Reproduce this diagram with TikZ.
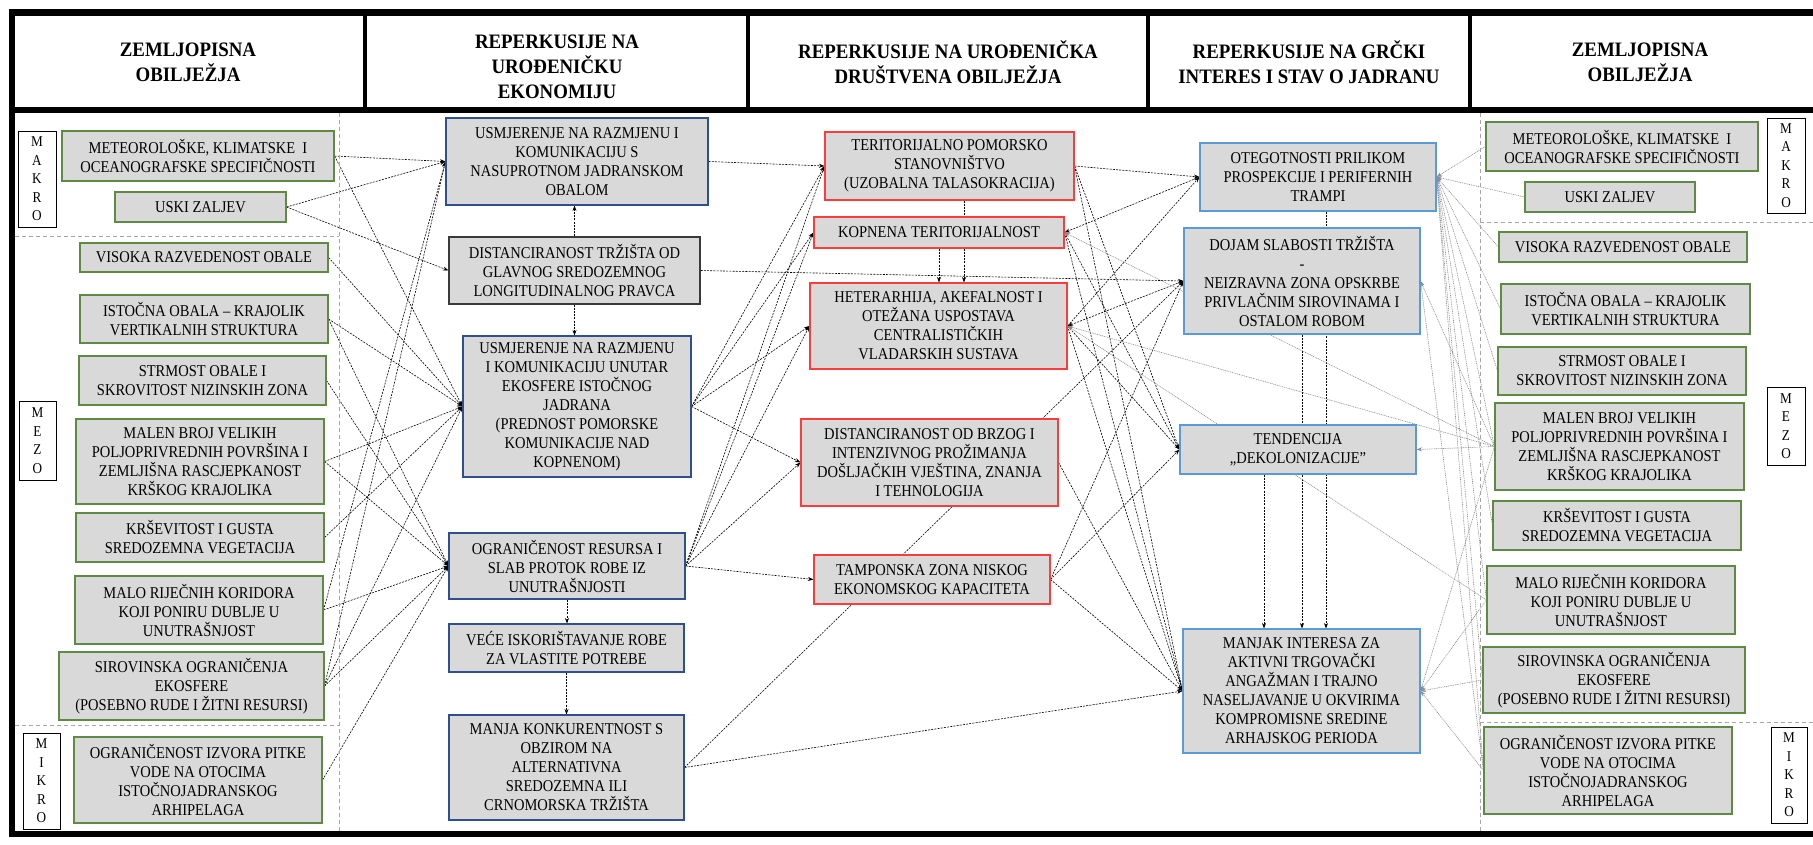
\documentclass[tikz,border=0pt]{standalone}
\usepackage{fontspec}
\setmainfont{Liberation Serif}
\newfontfamily\bodyfont{Liberation Serif}[FakeStretch=0.88]
\newfontfamily\hdrfont{Liberation Serif}[FakeStretch=0.92]
\usetikzlibrary{arrows.meta,calc,backgrounds}
\definecolor{boxgray}{HTML}{D9D9D9}
\definecolor{bgreen}{HTML}{5F8A45}
\definecolor{bnavy}{HTML}{2F4F8F}
\definecolor{bred}{HTML}{FF3B3B}
\definecolor{blblue}{HTML}{5B9BD5}
\definecolor{bdark}{HTML}{3A3A3A}
\begin{document}
\begin{tikzpicture}[x=1pt,y=-1pt,
  box/.style={draw, fill=boxgray, line width=1.1pt, align=center, inner sep=0pt,
    font=\bodyfont\fontsize{16.5}{19}\selectfont},
  gbox/.style={box, draw=bgreen},
  nbox/.style={box, draw=bnavy},
  dbox/.style={box, draw=bdark},
  rbox/.style={box, draw=bred},
  lbox/.style={box, draw=blblue},
  lvl/.style={draw=black, fill=white, line width=1pt, align=center, inner sep=0pt,
    font=\bodyfont\fontsize{15}{18.5}\selectfont},
  hdr/.style={align=center, font=\hdrfont\bfseries\fontsize{20.5}{25}\selectfont},
  conn/.style={line width=0.6pt, dash pattern=on 2pt off 1.2pt, -{Stealth[length=5.5pt,width=4pt]}},
  gconn/.style={black!45, line width=0.6pt, dash pattern=on 1pt off 0.8pt, -{Stealth[length=5.5pt,width=4pt]}},
  sep/.style={black!35, line width=0.8pt, dash pattern=on 4pt off 3pt},
]
\useasboundingbox (0,0) rectangle (1813,844);

% frame
\draw[line width=7pt] (9,12) -- (1813,12);
\draw[line width=6pt] (9,110) -- (1813,110);
\draw[line width=6pt] (9,834) -- (1813,834);
\draw[line width=6pt] (12,9) -- (12,837);
\foreach \x in {365,748,1148,1470} \draw[line width=4pt] (\x,12) -- (\x,110);

% headers
\node[hdr] (h1) at (188,62) {ZEMLJOPISNA\\OBILJEŽJA};
\node[hdr] (h2) at (557,67) {REPERKUSIJE NA\\UROĐENIČKU\\EKONOMIJU};
\node[hdr] (h3) at (948,62) {REPERKUSIJE NA UROĐENIČKA\\DRUŠTVENA OBILJEŽJA};
\node[hdr] (h4) at (1309,62) {REPERKUSIJE NA GRČKI\\INTERES I STAV O JADRANU};
\node[hdr] (h5) at (1640,62) {ZEMLJOPISNA\\OBILJEŽJA};

% separators
\draw[sep] (339,113) -- (339,831);
\draw[sep] (15,236) -- (339,236);
\draw[sep] (15,725) -- (339,725);
\draw[sep] (1480,113) -- (1480,831);
\draw[sep] (1480,222) -- (1813,222);
\draw[sep] (1480,722) -- (1813,722);

% left column
\node[lvl, minimum width=38pt, minimum height=96pt] (mkL) at (37,179) {M\\A\\K\\R\\O};
\node[lvl, minimum width=37pt, minimum height=79pt] (mzL) at (37.5,440.5) {M\\E\\Z\\O};
\node[lvl, minimum width=37pt, minimum height=96pt] (miL) at (41.5,781) {M\\I\\K\\R\\O};
\node[gbox, minimum width=272pt, minimum height=50pt] (l1) at (198,156) {METEOROLOŠKE, KLIMATSKE \ I\\OCEANOGRAFSKE SPECIFIČNOSTI};
\node[gbox, minimum width=171pt, minimum height=30pt] (l2) at (200.5,207) {USKI ZALJEV};
\node[gbox, minimum width=248pt, minimum height=29pt] (l3) at (204,257.5) {VISOKA RAZVEDENOST OBALE};
\node[gbox, minimum width=248pt, minimum height=48pt] (l4) at (204,319) {ISTOČNA OBALA – KRAJOLIK\\VERTIKALNIH STRUKTURA};
\node[gbox, minimum width=247pt, minimum height=49pt] (l5) at (202.5,380.5) {STRMOST OBALE I\\SKROVITOST NIZINSKIH ZONA};
\node[gbox, minimum width=248pt, minimum height=85pt] (l6) at (200,461.5) {MALEN BROJ VELIKIH\\POLJOPRIVREDNIH POVRŠINA I\\ZEMLJIŠNA RASCJEPKANOST\\KRŠKOG KRAJOLIKA};
\node[gbox, minimum width=248pt, minimum height=49pt] (l7) at (200,537.5) {KRŠEVITOST I GUSTA\\SREDOZEMNA VEGETACIJA};
\node[gbox, minimum width=248pt, minimum height=68pt] (l8) at (199,610) {MALO RIJEČNIH KORIDORA\\KOJI PONIRU DUBLJE U\\UNUTRAŠNJOST};
\node[gbox, minimum width=265pt, minimum height=68pt] (l9) at (191.5,686) {SIROVINSKA OGRANIČENJA\\EKOSFERE\\(POSEBNO RUDE I ŽITNI RESURSI)};
\node[gbox, minimum width=248pt, minimum height=86pt] (l10) at (198,780) {OGRANIČENOST IZVORA PITKE\\VODE NA OTOCIMA\\ISTOČNOJADRANSKOG\\ARHIPELAGA};

% column 2
\node[nbox, minimum width=262pt, minimum height=87pt] (b1) at (577,161.5) {USMJERENJE NA RAZMJENU I\\KOMUNIKACIJU S\\NASUPROTNOM JADRANSKOM\\OBALOM};
\node[dbox, minimum width=251pt, minimum height=67pt] (b2) at (574.5,270.5) {DISTANCIRANOST TRŽIŠTA OD\\GLAVNOG SREDOZEMNOG\\LONGITUDINALNOG PRAVCA};
\node[nbox, minimum width=228pt, minimum height=141pt] (b3) at (577,406.5) {USMJERENJE NA RAZMJENU\\I KOMUNIKACIJU UNUTAR\\EKOSFERE ISTOČNOG\\JADRANA\\(PREDNOST POMORSKE\\KOMUNIKACIJE NAD\\KOPNENOM)};
\node[nbox, minimum width=236pt, minimum height=66pt] (b4) at (567,566) {OGRANIČENOST RESURSA I\\SLAB PROTOK ROBE IZ\\UNUTRAŠNJOSTI};
\node[nbox, minimum width=235pt, minimum height=48pt] (b5) at (566.5,648) {VEĆE ISKORIŠTAVANJE ROBE\\ZA VLASTITE POTREBE};
\node[nbox, minimum width=235pt, minimum height=105pt] (b6) at (566.5,767.5) {MANJA KONKURENTNOST S\\OBZIROM NA\\ALTERNATIVNA\\SREDOZEMNA ILI\\CRNOMORSKA TRŽIŠTA};

% column 3
\node[rbox, minimum width=249pt, minimum height=68pt] (ter) at (949.5,166) {TERITORIJALNO POMORSKO\\STANOVNIŠTVO\\(UZOBALNA TALASOKRACIJA)};
\node[rbox, minimum width=250pt, minimum height=31pt] (kop) at (939,232.5) {KOPNENA TERITORIJALNOST};
\node[rbox, minimum width=257pt, minimum height=86pt] (het) at (938.5,326) {HETERARHIJA, AKEFALNOST I\\OTEŽANA USPOSTAVA\\CENTRALISTIČKIH\\VLADARSKIH SUSTAVA};
\node[rbox, minimum width=257pt, minimum height=87pt] (dob) at (929.5,462.5) {DISTANCIRANOST OD BRZOG I\\INTENZIVNOG PROŽIMANJA\\DOŠLJAČKIH VJEŠTINA, ZNANJA\\I TEHNOLOGIJA};
\node[rbox, minimum width=236pt, minimum height=49pt] (tamp) at (932,579.5) {TAMPONSKA ZONA NISKOG\\EKONOMSKOG KAPACITETA};

% column 4
\node[lbox, minimum width=236pt, minimum height=68pt] (oteg) at (1318,177) {OTEGOTNOSTI PRILIKOM\\PROSPEKCIJE I PERIFERNIH\\TRAMPI};
\node[lbox, minimum width=236pt, minimum height=106pt] (dojam) at (1302,281) {DOJAM SLABOSTI TRŽIŠTA\\-\\NEIZRAVNA ZONA OPSKRBE\\PRIVLAČNIM SIROVINAMA I\\OSTALOM ROBOM};
\node[lbox, minimum width=236pt, minimum height=49pt] (tend) at (1298,449.5) {TENDENCIJA\\„DEKOLONIZACIJE”};
\node[lbox, minimum width=237pt, minimum height=124pt] (manjak) at (1301.5,691) {MANJAK INTERESA ZA\\AKTIVNI TRGOVAČKI\\ANGAŽMAN I TRAJNO\\NASELJAVANJE U OKVIRIMA\\KOMPROMISNE SREDINE\\ARHAJSKOG PERIODA};

% right column
\node[lvl, minimum width=38pt, minimum height=95pt] (mkR) at (1786,165.5) {M\\A\\K\\R\\O};
\node[lvl, minimum width=38pt, minimum height=78pt] (mzR) at (1786,426) {M\\E\\Z\\O};
\node[lvl, minimum width=36pt, minimum height=96pt] (miR) at (1789,775) {M\\I\\K\\R\\O};
\node[gbox, minimum width=272pt, minimum height=49pt] (r1) at (1622,146.5) {METEOROLOŠKE, KLIMATSKE \ I\\OCEANOGRAFSKE SPECIFIČNOSTI};
\node[gbox, minimum width=170pt, minimum height=30pt] (r2) at (1610,197) {USKI ZALJEV};
\node[gbox, minimum width=248pt, minimum height=30pt] (r3) at (1623,247) {VISOKA RAZVEDENOST OBALE};
\node[gbox, minimum width=249pt, minimum height=50pt] (r4) at (1625.5,309) {ISTOČNA OBALA – KRAJOLIK\\VERTIKALNIH STRUKTURA};
\node[gbox, minimum width=248pt, minimum height=48pt] (r5) at (1622,371) {STRMOST OBALE I\\SKROVITOST NIZINSKIH ZONA};
\node[gbox, minimum width=249pt, minimum height=87pt] (r6) at (1619.5,446.5) {MALEN BROJ VELIKIH\\POLJOPRIVREDNIH POVRŠINA I\\ZEMLJIŠNA RASCJEPKANOST\\KRŠKOG KRAJOLIKA};
\node[gbox, minimum width=248pt, minimum height=49pt] (r7) at (1617,525.5) {KRŠEVITOST I GUSTA\\SREDOZEMNA VEGETACIJA};
\node[gbox, minimum width=248pt, minimum height=68pt] (r8) at (1611,600) {MALO RIJEČNIH KORIDORA\\KOJI PONIRU DUBLJE U\\UNUTRAŠNJOST};
\node[gbox, minimum width=262pt, minimum height=66pt] (r9) at (1614,680) {SIROVINSKA OGRANIČENJA\\EKOSFERE\\(POSEBNO RUDE I ŽITNI RESURSI)};
\node[gbox, minimum width=248pt, minimum height=87pt] (r10) at (1608,770.5) {OGRANIČENOST IZVORA PITKE\\VODE NA OTOCIMA\\ISTOČNOJADRANSKOG\\ARHIPELAGA};

\begin{scope}[on background layer]
% left column -> column 2
\draw[conn] (l1.east) -- (b1.west);
\draw[conn] (l1.east) -- (b3.west);
\draw[conn] (l2.east) -- (b1.west);
\draw[conn] (l2.east) -- (b2.west);
\draw[conn] (l3.east) -- (b3.west);
\draw[conn] (l4.east) -- (b3.west);
\draw[conn] (l4.east) -- (b4.west);
\draw[conn] (l5.east) -- (b4.west);
\draw[conn] (l6.east) -- (b3.west);
\draw[conn] (l6.east) -- (b4.west);
\draw[conn] (l7.east) -- (b3.west);
\draw[conn] (l8.east) -- (b1.west);
\draw[conn] (l8.east) -- (b4.west);
\draw[conn] (l9.east) -- (b1.west);
\draw[conn] (l9.east) -- (b3.west);
\draw[conn] (l9.east) -- (b4.west);
\draw[conn] (l10.east) -- (b4.west);
% column 2 internal
\draw[conn] (b2.north) -- (b2.north |- b1.south);
\draw[conn] (b2.south) -- (b2.south |- b3.north);
\draw[conn] (b4.south) -- (b4.south |- b5.north);
\draw[conn] (b5.south) -- (b5.south |- b6.north);
% column 2 -> column 3/4
\draw[conn] (b1.east) -- (ter.west);
\draw[conn] (b3.east) -- (ter.west);
\draw[conn] (b3.east) -- (kop.west);
\draw[conn] (b3.east) -- (het.west);
\draw[conn] (b3.east) -- (dob.west);
\draw[conn] (b4.east) -- (ter.west);
\draw[conn] (b4.east) -- (kop.west);
\draw[conn] (b4.east) -- (het.west);
\draw[conn] (b4.east) -- (dob.west);
\draw[conn] (b4.east) -- (tamp.west);
\draw[conn] (b2.east) -- (dojam.west);
\draw[conn] (b6.east) -- (dojam.west);
\draw[conn] (b6.east) -- (manjak.west);
% column 3 internal
\draw[conn] ([xshift=14.5pt]ter.south) -- ([xshift=14.5pt]ter.south |- het.north);
\draw[conn] (kop.south) -- (kop.south |- het.north);
% column 3 -> column 4
\draw[conn] (ter.east) -- (oteg.west);
\draw[conn] (ter.east) -- (tend.west);
\draw[conn] (ter.east) -- (manjak.west);
\draw[conn] (oteg.west) -- (kop.east);
\draw[conn] (kop.east) -- (tend.west);
\draw[conn] (kop.east) -- (manjak.west);
\draw[conn] (het.east) -- (oteg.west);
\draw[conn] (dojam.west) -- (het.east);
\draw[conn] (het.east) -- (tend.west);
\draw[conn] (het.east) -- (manjak.west);
\draw[conn] (dob.east) -- (manjak.west);
\draw[conn] (tamp.east) -- (dojam.west);
\draw[conn] (tamp.east) -- (tend.west);
\draw[conn] (tamp.east) -- (manjak.west);
% column 4 internal
\draw[conn] ([xshift=8pt]oteg.south) -- ([xshift=8pt]oteg.south |- manjak.north);
\draw[conn] (dojam.south) -- (dojam.south |- manjak.north);
\draw[conn] ([xshift=-34pt]tend.south) -- ([xshift=-34pt]tend.south |- manjak.north);
% right column -> column 4 / 3
\foreach \r in {r1,r2,r3,r4,r5,r6,r7,r8,r9,r10} \draw[gconn] (\r.west) -- (oteg.east);
\draw[gconn] (r6.west) -- (tend.east);
\draw[gconn] (r6.west) -- (dojam.east);
\draw[gconn] (r10.west) -- (dojam.east);
\draw[gconn] (r6.west) -- (kop.east);
\draw[gconn] (r6.west) -- (het.east);
\draw[gconn] (r8.west) -- (het.east);
\draw[gconn] (r6.west) -- (manjak.east);
\draw[gconn] (r8.west) -- (manjak.east);
\draw[gconn] (r9.west) -- (manjak.east);
\draw[gconn] (r10.west) -- (manjak.east);
\end{scope}
\end{tikzpicture}
\end{document}
